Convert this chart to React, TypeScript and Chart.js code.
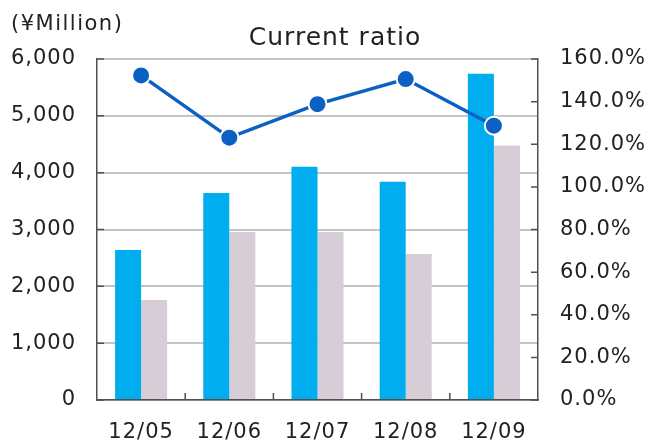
import React, { useEffect, useRef } from "react";
import { Chart, registerables } from "chart.js";

Chart.register(...registerables);

const categories = ["12/05", "12/06", "12/07", "12/08", "12/09"];
const currentAssets = [2640, 3644, 4102, 3838, 5739];
const currentLiabilities = [1760, 2958, 2958, 2570, 4477];
const currentRatio = [152.3, 123.1, 138.8, 150.6, 128.7];
const leftTicks = [0, 1000, 2000, 3000, 4000, 5000, 6000];
const rightTicks = [0, 20, 40, 60, 80, 100, 120, 140, 160];
const titleText = "Current ratio";
const unitText = "(¥Million)";

const FONT = "'DejaVu Sans', Verdana, sans-serif";
const TEXT = "#222222";
const AXIS = "#505050";

export default function App() {
  const ref = useRef<HTMLCanvasElement | null>(null);

  useEffect(() => {
    const canvas = ref.current;
    if (!canvas) return;

    const spacing = {
      id: "spacing",
      beforeUpdate(chart: any) {
        chart.ctx.letterSpacing = "1px";
      },
      beforeDraw(chart: any) {
        chart.ctx.letterSpacing = "1px";
      },
    };

    const decor = {
      id: "decor",
      afterDraw(chart: any) {
        const ctx = chart.ctx;
        const area = chart.chartArea;
        const x = chart.scales.x;
        const y = chart.scales.y;
        const y1 = chart.scales.y1;
        ctx.save();
        ctx.strokeStyle = AXIS;
        ctx.lineWidth = 1.5;
        ctx.beginPath();
        leftTicks.forEach((v) => {
          const py = y.getPixelForValue(v);
          ctx.moveTo(area.left, py);
          ctx.lineTo(area.left + 7, py);
        });
        rightTicks.forEach((v) => {
          const py = y1.getPixelForValue(v);
          ctx.moveTo(area.right - 7, py);
          ctx.lineTo(area.right, py);
        });
        const half = (x.getPixelForValue(1) - x.getPixelForValue(0)) / 2;
        for (let i = 1; i < categories.length; i++) {
          const px = x.getPixelForValue(i) - half;
          ctx.moveTo(px, area.bottom);
          ctx.lineTo(px, area.bottom - 7);
        }
        ctx.stroke();

        ctx.fillStyle = TEXT;
        ctx.textBaseline = "middle";
        ctx.textAlign = "left";
        ctx.letterSpacing = "1.5px";
        ctx.font = `21px ${FONT}`;
        ctx.fillText(unitText, 11, 25);
        ctx.letterSpacing = "1px";
        ctx.textAlign = "center";
        ctx.font = `25px ${FONT}`;
        ctx.fillText(titleText, 335, 38);
        ctx.restore();
      },
    };

    const chart = new Chart(canvas, {
      type: "bar",
      data: {
        labels: categories,
        datasets: [
          {
            type: "line",
            label: "Current ratio",
            data: currentRatio,
            yAxisID: "y1",
            borderColor: "#0B60C3",
            backgroundColor: "#0B60C3",
            borderWidth: 3.5,
            pointRadius: 9,
            pointBackgroundColor: "#0B60C3",
            pointBorderColor: "#ffffff",
            pointBorderWidth: 2,
            order: 0,
          } as any,
          {
            label: "Current assets",
            data: currentAssets,
            yAxisID: "y",
            backgroundColor: "#00AEEF",
            categoryPercentage: 0.59,
            barPercentage: 1,
            order: 1,
          },
          {
            label: "Current liabilities",
            data: currentLiabilities,
            yAxisID: "y",
            backgroundColor: "#D6CDD6",
            categoryPercentage: 0.59,
            barPercentage: 1,
            order: 2,
          },
        ],
      },
      options: {
        animation: false,
        responsive: false,
        layout: { padding: { top: 59, left: 0, right: 0, bottom: 0 } },
        plugins: {
          legend: { display: false },
          title: { display: false },
          tooltip: { enabled: false },
        },
        scales: {
          x: {
            grid: { display: false, drawTicks: false },
            border: { display: true, color: AXIS, width: 1.5 },
            ticks: {
              color: TEXT,
              font: { family: FONT, size: 21 },
              padding: 20,
            },
            afterFit(scale: any) {
              scale.height = 41;
            },
          },
          y: {
            position: "left",
            min: 0,
            max: 6000,
            afterBuildTicks(scale: any) {
              scale.ticks = leftTicks.map((v) => ({ value: v }));
            },
            grid: { color: "#C4C4C4", lineWidth: 2, drawTicks: false },
            border: { display: true, color: AXIS, width: 1.5 },
            ticks: {
              color: TEXT,
              font: { family: FONT, size: 21 },
              padding: 21,
              callback: (v: any) => Number(v).toLocaleString("en-US"),
            },
            afterFit(scale: any) {
              scale.width = 97;
            },
          },
          y1: {
            position: "right",
            min: 0,
            max: 160,
            afterBuildTicks(scale: any) {
              scale.ticks = rightTicks.map((v) => ({ value: v }));
            },
            grid: { display: false, drawTicks: false },
            border: { display: true, color: AXIS, width: 1.5 },
            ticks: {
              color: TEXT,
              font: { family: FONT, size: 21 },
              padding: 22,
              callback: (v: any) => Number(v).toFixed(1) + "%",
            },
            afterFit(scale: any) {
              scale.width = 111;
            },
          },
        },
      },
      plugins: [spacing, decor],
    });

    return () => chart.destroy();
  }, []);

  return (
    <div style={{ position: "absolute", left: 0, top: 0, width: 649, height: 441, background: "#fff" }}>
      <canvas ref={ref} width={649} height={441} style={{ display: "block" }} />
    </div>
  );
}
